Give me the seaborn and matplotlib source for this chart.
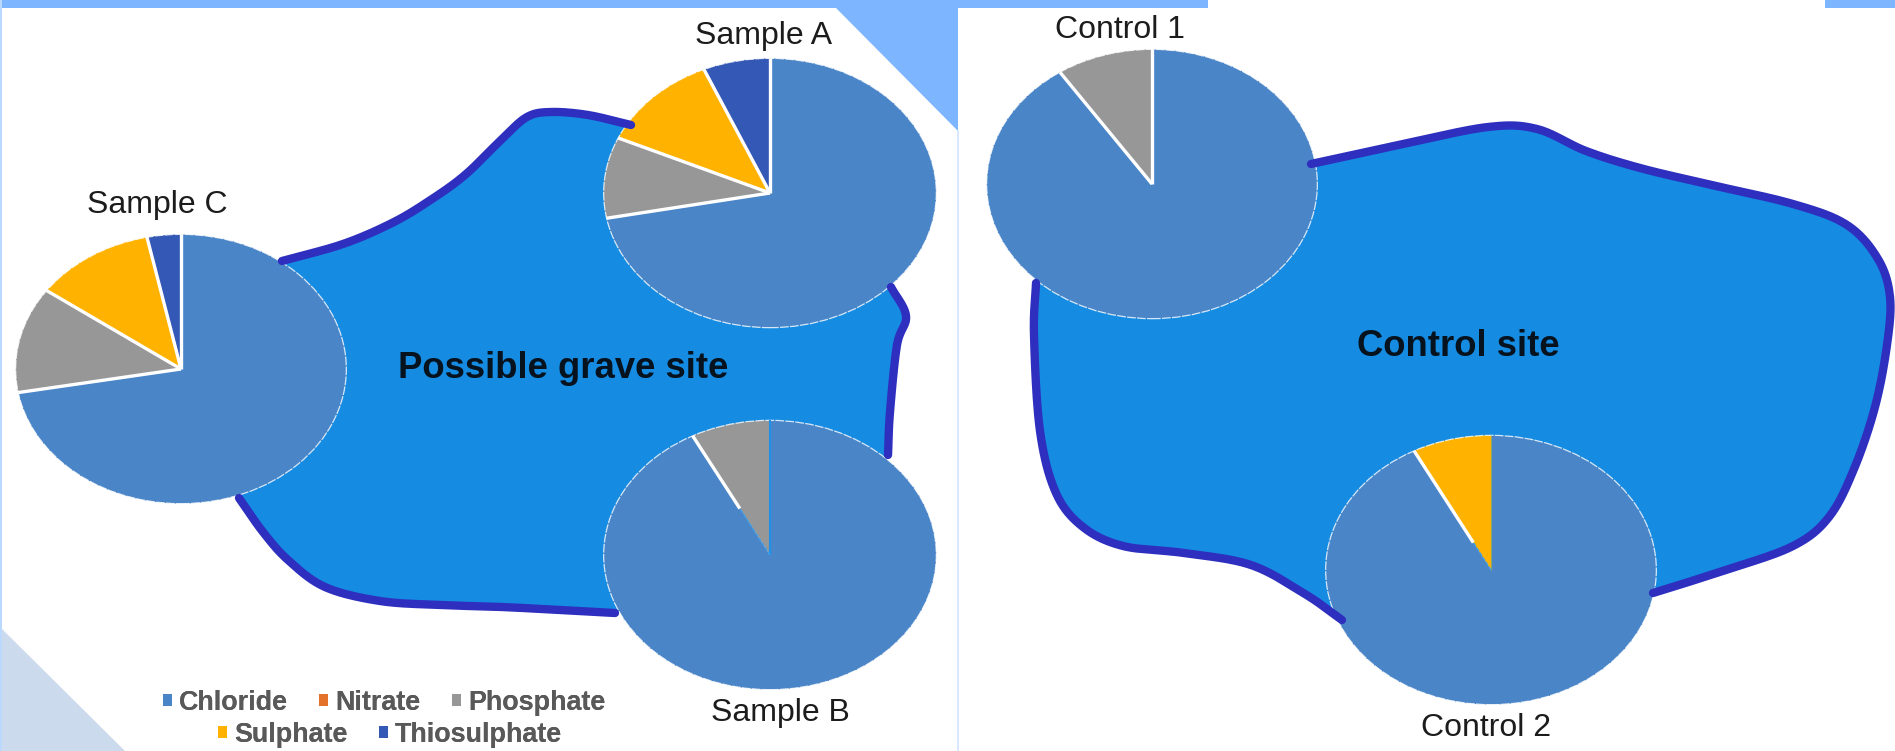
import numpy as np
import matplotlib
matplotlib.use("Agg")
import matplotlib.pyplot as plt
from matplotlib.patches import Ellipse, Patch, Polygon, Rectangle
import seaborn as sns

# Ion shares (%) in each soil sample, one list per anion
samples = ["Sample A", "Sample B", "Sample C", "Control 1", "Control 2"]
anions = ["Chloride", "Nitrate", "Phosphate", "Sulphate", "Thiosulphate"]
chloride = [72.0, 92.3, 72.2, 90.6, 92.3]
nitrate = [0.0, 0.0, 0.0, 0.0, 0.0]
phosphate = [9.7, 7.7, 12.7, 9.4, 0.0]
sulphate = [11.8, 0.0, 11.8, 0.0, 7.7]
thiosulphate = [6.5, 0.0, 3.3, 0.0, 0.0]

W, H = 1895, 751
sns.set_theme(style="white")
plt.rcParams["font.family"] = ["Liberation Sans", "DejaVu Sans"]
palette = sns.color_palette(["#4A85C8", "#E5722A", "#979797", "#FFB300", "#3358B5"])
FILL, OUTLINE = "#158CE2", "#2E2FBF"


def smooth_open(points, n=20):
    """Catmull-Rom curve through the given points, open at both ends."""
    p = np.asarray(points, dtype=float)
    p = np.vstack([2 * p[0] - p[1], p, 2 * p[-1] - p[-2]])
    out = []
    for i in range(1, len(p) - 2):
        p0, p1, p2, p3 = p[i - 1], p[i], p[i + 1], p[i + 2]
        for t in np.linspace(0, 1, n, endpoint=False):
            out.append(0.5 * (2 * p1 + (p2 - p0) * t
                              + (2 * p0 - 5 * p1 + 4 * p2 - p3) * t ** 2
                              + (3 * p1 - p0 - 3 * p2 + p3) * t ** 3))
    out.append(p[-2])
    return np.array(out)


def pixel_axes(zorder):
    """Transparent full-figure axes measured in pixels from the top left."""
    a = fig.add_axes([0, 0, 1, 1], zorder=zorder)
    a.set_xlim(0, W)
    a.set_ylim(H, 0)
    a.axis("off")
    return a


fig = plt.figure(figsize=(W / 100, H / 100), dpi=100, facecolor="white")
bg = pixel_axes(0)
top = pixel_axes(3)

# Slide decoration behind the two panels
band = "#7DB5FF"
bg.add_patch(Rectangle((0, 0), 1208, 7.5, color=band, lw=0))
bg.add_patch(Rectangle((1825, 0), 70, 7.5, color=band, lw=0))
bg.add_patch(Polygon([(835, 7), (958, 131), (958, 7)], color=band, lw=0))
bg.add_patch(Polygon([(0, 627), (125, 751), (0, 751)], color="#CCDAEE", lw=0))
bg.add_patch(Rectangle((0, 0), 2, H, color="#BBD8FF", lw=0))
bg.add_patch(Rectangle((957, 130), 2, H - 130, color="#D8E8FF", lw=0))

# Plot outlines: the visible stretches of each boundary; pies cover the gaps between them
grave_runs = [
    [(631, 125), (588, 115), (551, 112), (527, 117), (502, 139), (465, 175), (429, 201),
     (392, 223), (343, 244), (282, 261)],
    [(239, 498), (263, 532), (288, 560), (325, 587), (380, 601), (440, 605), (502, 607),
     (560, 610), (615, 613)],
    [(888, 455), (890, 412), (897, 345), (906, 316), (891, 287)],
]
control_runs = [
    [(1311, 164), (1403, 144), (1488, 127), (1537, 129), (1586, 151), (1640, 168),
     (1707, 184), (1793, 204), (1847, 225), (1878, 259), (1890, 297), (1887, 345),
     (1875, 407), (1854, 469), (1829, 517), (1793, 546), (1726, 570), (1653, 593)],
    [(1342, 620), (1305, 594), (1251, 565), (1184, 553), (1123, 546), (1083, 527),
     (1056, 493), (1040, 431), (1034, 335), (1036, 283)],
]
for runs in (grave_runs, control_runs):
    curves = [smooth_open(run) for run in runs]
    boundary = np.vstack(curves)
    bg.fill(boundary[:, 0], boundary[:, 1], color=FILL, lw=0)
    for curve in curves:
        sns.lineplot(x=curve[:, 0], y=curve[:, 1], sort=False, estimator=None, ax=top,
                     color=OUTLINE, linewidth=6.0, legend=False, solid_capstyle="round")
for a in (bg, top):
    a.set_xlim(0, W)
    a.set_ylim(H, 0)
    a.axis("off")

bg.text(563, 369, "Possible grave site", fontsize=26.3, fontweight="bold",
        color="#06121E", ha="center", va="center")
bg.text(1458, 347, "Control site", fontsize=26.3, fontweight="bold",
        color="#06121E", ha="center", va="center")

# One elliptical pie per sample, with its label placed beside it
pie_boxes = {"Sample A": (770, 193, 168, 136), "Sample B": (770, 555, 168, 136),
             "Sample C": (181, 369, 167, 136), "Control 1": (1152, 184, 167, 136),
             "Control 2": (1491, 570, 167, 136)}
label_spots = {"Sample A": (764, 36), "Sample B": (780, 713), "Sample C": (157, 205),
               "Control 1": (1120, 30), "Control 2": (1486, 728)}
# Pies whose slanted divider only shows white towards the rim, with a hairline 12 o'clock edge
faded_dividers = {"Sample B": (0.39, "#1E90E8", 1.5), "Control 2": (0.23, "#8AA56A", 0.8)}
for i, name in enumerate(samples):
    cx, cy, rx, ry = pie_boxes[name]
    ax = fig.add_axes([(cx - rx) / W, 1 - (cy + ry) / H, 2 * rx / W, 2 * ry / H], zorder=1)
    shares = [chloride[i], nitrate[i], phosphate[i], sulphate[i], thiosulphate[i]]
    ax.pie(shares, colors=palette, startangle=90, counterclock=False, radius=1,
           wedgeprops={"edgecolor": "none", "linewidth": 0})
    ax.set_aspect("auto")
    ax.set_xlim(-1.01, 1.01)
    ax.set_ylim(-1.01, 1.01)
    cuts = np.radians(90 - 3.6 * np.cumsum([0] + [s for s in shares if s > 0][:-1]))
    if name in faded_dividers:
        start, vertical, vertical_lw = faded_dividers[name]
        up, slant = cuts
        ax.plot([0, 0], [0, 1], color=vertical, lw=vertical_lw, solid_capstyle="butt")
        ax.plot([0, start * np.cos(slant)], [0, start * np.sin(slant)], color="#3FA0EA",
                lw=1.0, linestyle=(0, (3, 1)))
        ax.plot([start * np.cos(slant), np.cos(slant)], [start * np.sin(slant), np.sin(slant)],
                color="white", lw=2.4, solid_capstyle="butt")
    else:
        for a in cuts:
            ax.plot([0, np.cos(a)], [0, np.sin(a)], color="white", lw=2.4, solid_capstyle="butt")
    # Faint broken rim
    ax.add_patch(Ellipse((0, 0), 2, 2, fill=False, edgecolor="white", lw=0.9,
                         linestyle=(0, (7, 1)), alpha=0.8))
    lx, ly = label_spots[name]
    top.text(lx, ly, name, fontsize=23, color="#1C1C1C", ha="center", va="center")

# Two centred legend rows along the bottom of the left panel
handles = [Patch(facecolor=c, edgecolor="none") for c in palette]
rows = [(handles[:3], anions[:3], 384, 702.5), (handles[3:], anions[3:], 390, 734.5)]
for row_handles, row_labels, x, y in rows:
    leg = fig.legend(row_handles, row_labels, loc="center", bbox_to_anchor=(x / W, 1 - y / H),
                     ncol=len(row_labels), frameon=False, labelcolor="#595959",
                     prop={"family": "Liberation Sans", "weight": "bold", "size": 19.4},
                     handlelength=0.33, handleheight=0.33, handletextpad=0.28,
                     columnspacing=1.15, borderpad=0, borderaxespad=0)
    fig.add_artist(leg)

fig.savefig("out.png", dpi=100, facecolor="white")
